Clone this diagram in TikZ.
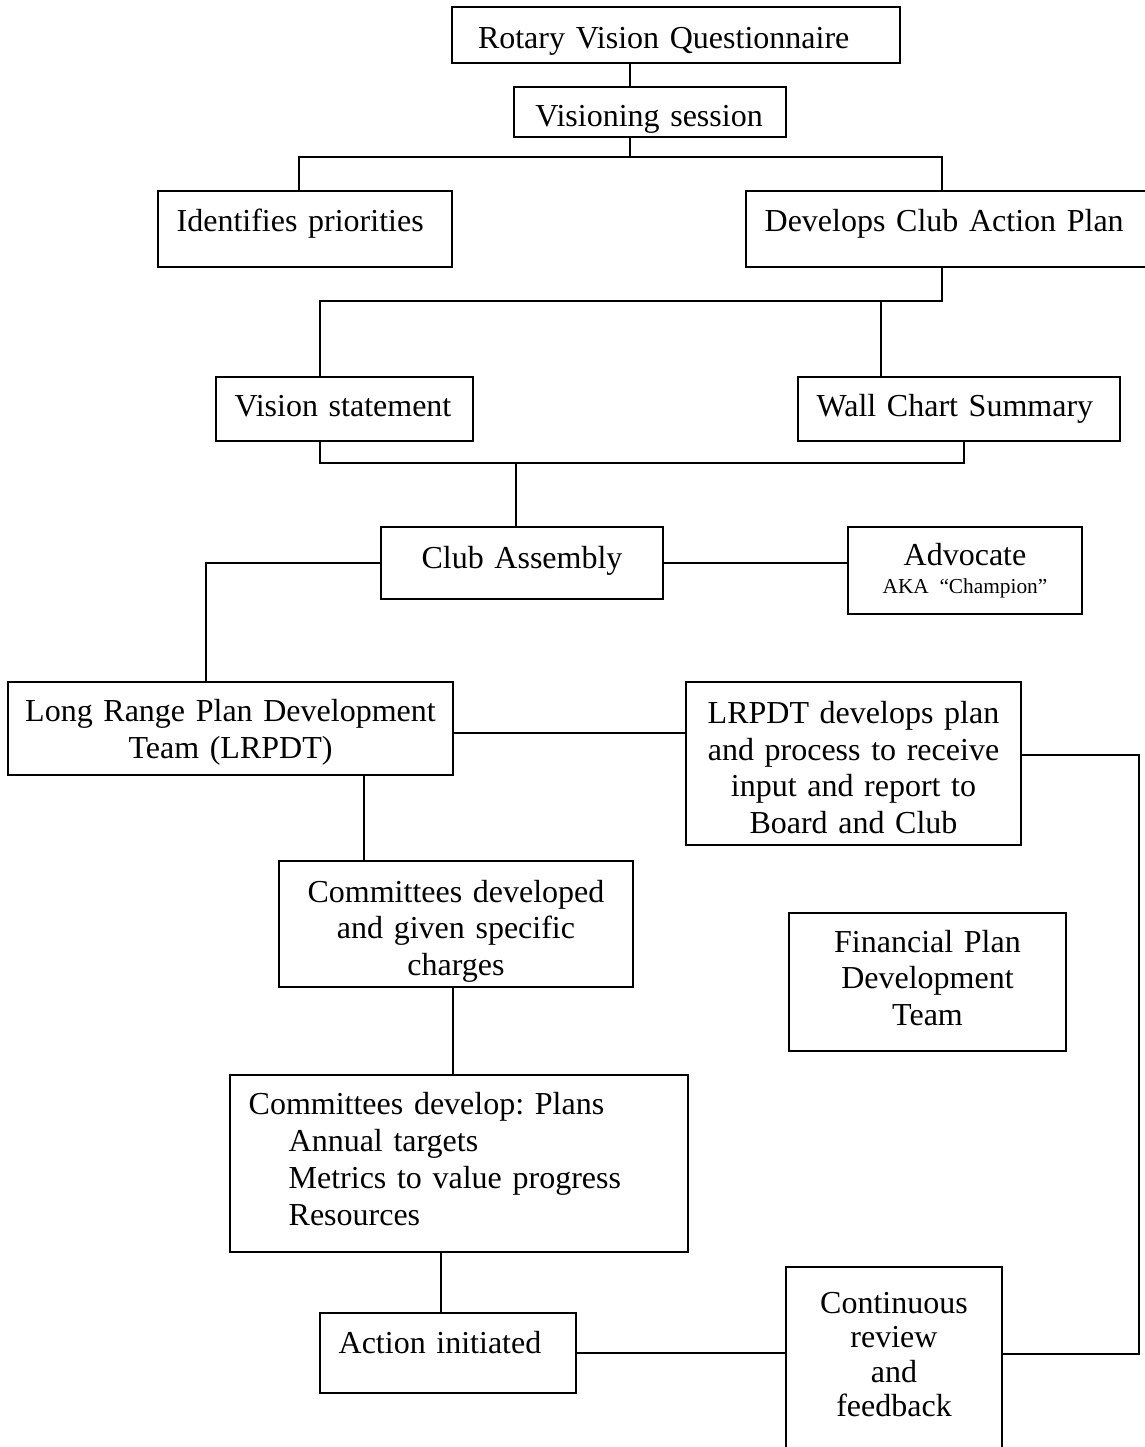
\documentclass[tikz,border=0pt]{standalone}
\usepackage{fontspec}
\setmainfont{Liberation Serif}
\usepackage{tikz}
\usetikzlibrary{positioning}
\frenchspacing

\begin{document}
\begin{tikzpicture}[
    x=0.375pt, y=-0.375pt,
    box/.style={draw, line width=0.75pt, inner ysep=0pt, font=\fontsize{12}{13.8}\selectfont},
    lbox/.style={box, align=left, inner xsep=7pt},
    cbox/.style={box, align=center, inner xsep=2pt},
    link/.style={line width=0.75pt}
  ]
    \useasboundingbox (0,0) rectangle (1144,1447);

    % Top: questionnaire and visioning session
    \node[lbox, inner xsep=9.75pt, text width=148.5pt, minimum height=21pt, text height=9.75pt, text depth=0pt] (quest) at (676,35) {Rotary Vision Questionnaire};
    \node[lbox, inner xsep=8pt, text width=86pt, minimum height=18.75pt, text height=10.5pt, text depth=0pt] (session) at (650,112) {Visioning session};

    % Row 2
    \node[lbox, text width=96.25pt, minimum height=28.5pt, text height=2pt, text depth=0pt] (prio) at (305,229) {Identifies priorities};
    \node[lbox, text width=148.75pt, minimum height=28.5pt, text height=2pt, text depth=0pt] (actplan) at (963,229) {Develops Club Action Plan};

    % Row 3
    \node[lbox, text width=82.4pt, minimum height=24pt, text height=5.25pt, text depth=0pt] (vision) at (344.5,409) {Vision statement};
    \node[lbox, text width=106.75pt, minimum height=24pt, text height=5.25pt, text depth=0pt] (wall) at (959,409) {Wall Chart Summary};

    % Club assembly and advocate
    \node[cbox, text width=101.75pt, minimum height=27pt, text height=3.75pt, text depth=0pt] (assembly) at (522,563) {Club Assembly};
    \node[cbox, text width=83.75pt, minimum height=32.6pt, text height=0pt, text depth=4.1pt] (advocate) at (965,570.5) {Advocate\\[-3.3pt]{\fontsize{8}{9.2}\selectfont AKA “Champion”}};

    % LRPDT row
    \node[cbox, text width=162.9pt, minimum height=34.9pt, text height=0pt, text depth=5.1pt] (lrpdt) at (230.5,728.5) {Long Range Plan Development\\Team (LRPDT)};
    \node[cbox, text width=121.6pt, minimum height=61.1pt, text height=0pt, text depth=30.2pt] (report) at (853.5,763.5) {LRPDT develops plan\\and process to receive\\input and report to\\Board and Club};

    % Committees
    \node[cbox, text width=128.75pt, minimum height=47.25pt, text height=0pt, text depth=16.5pt] (charges) at (456,924) {Committees developed\\and given specific\\charges};
    \node[cbox, text width=99.9pt, minimum height=51.75pt, text height=0pt, text depth=22.5pt] (finplan) at (927.5,982) {Financial Plan\\Development\\Team};
    \node[lbox, text width=157.75pt, minimum height=66.4pt, text height=0pt, text depth=36.5pt] (cplans) at (459,1163.5) {Committees develop: Plans\\\hspace*{15pt}Annual targets\\\hspace*{15pt}Metrics to value progress\\\hspace*{15pt}Resources};

    % Bottom row
    \node[lbox, text width=82pt, minimum height=30pt, text height=0pt, text depth=0pt] (action) at (448,1353) {Action initiated};
    \node[cbox, font=\fontsize{12}{12.9}\selectfont, text width=77pt, minimum height=76.1pt, text height=0pt, text depth=41.4pt] (review) at (894,1368.5) {Continuous\\review\\and\\feedback};

    % Junction points
    \coordinate (fork1) at (630,157);
    \coordinate (fork1l) at (299,157);
    \coordinate (fork1r) at (942,157);
    \coordinate (fork2l) at (320,301);
    \coordinate (fork2r) at (942,301);
    \coordinate (fork2m) at (881,301);
    \coordinate (fork3l) at (320,463);
    \coordinate (fork3r) at (964,463);
    \coordinate (fork3m) at (516,463);
    \coordinate (bendA) at (206,563);
    \coordinate (ylink) at (560,733);
    \coordinate (loopT) at (1139,755);
    \coordinate (loopB) at (1139,1354);
    \coordinate (dropA) at (364,820);
    \coordinate (dropB) at (453,1030);
    \coordinate (dropC) at (441,1280);

    % Connectors
    \draw[link] (quest.south -| fork1) -- (session.north -| fork1);
    \draw[link] (session.south -| fork1) -- (fork1);
    \draw[link] (prio.north -| fork1l) -- (fork1l) -- (fork1r) -- (actplan.north -| fork1r);
    \draw[link] (actplan.south -| fork2r) -- (fork2r) -- (fork2l) -- (vision.north -| fork2l);
    \draw[link] (fork2m) -- (wall.north -| fork2m);
    \draw[link] (vision.south -| fork3l) -- (fork3l) -- (fork3r) -- (wall.south -| fork3r);
    \draw[link] (fork3m) -- (assembly.north -| fork3m);
    \draw[link] (assembly.west) -- (bendA) -- (lrpdt.north -| bendA);
    \draw[link] (assembly.east) -- (advocate.west |- assembly.east);
    \draw[link] (lrpdt.east |- ylink) -- (report.west |- ylink);
    \draw[link] (report.east |- loopT) -- (loopT) -- (loopB) -- (review.east |- loopB);
    \draw[link] (lrpdt.south -| dropA) -- (charges.north -| dropA);
    \draw[link] (charges.south -| dropB) -- (cplans.north -| dropB);
    \draw[link] (cplans.south -| dropC) -- (action.north -| dropC);
    \draw[link] (action.east) -- (review.west |- action.east);
\end{tikzpicture}
\end{document}
